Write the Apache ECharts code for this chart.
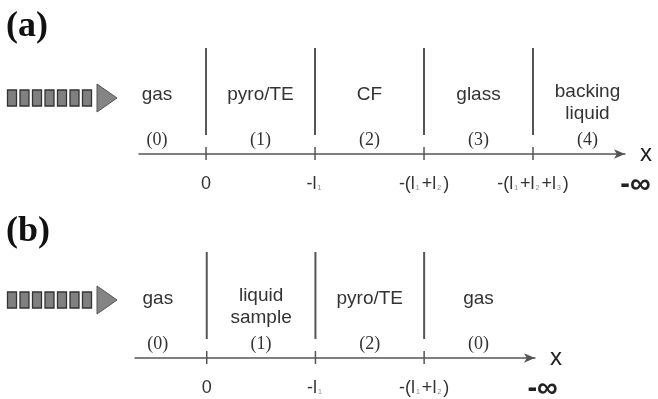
<!DOCTYPE html>
<html>
<head>
<meta charset="utf-8">
<script src="https://cdn.jsdelivr.net/npm/echarts@6/dist/echarts.min.js"></script>
<style>
  html, body { margin: 0; padding: 0; background: #fff; }
  #chart { width: 658px; height: 399px; }
</style>
</head>
<body>
<div id="chart"></div>
<script>
// ---- Layer stack (a): gas | pyro/TE | CF | glass | backing liquid ----
// interfaces at depth 0, l1, l1+l2, l1+l2+l3 (equal layer thickness)
const boundariesA = [0, 1, 2, 3];
const layerNamesA = ['gas', 'pyro/TE', 'CF', 'glass', 'backing\nliquid'];
const layerIdxA   = ['(0)', '(1)', '(2)', '(3)', '(4)'];
const layerMidA   = [-0.45, 0.5, 1.5, 2.5, 3.5];
const tickLabelsA = ['0', '-l{s|1}', '-(l{s|1}+l{s|2})', '-(l{s|1}+l{s|2}+l{s|3})'];

// ---- Layer stack (b): gas | liquid sample | pyro/TE | gas ----
const boundariesB = [0, 1, 2];
const layerNamesB = ['gas', 'liquid\nsample', 'pyro/TE', 'gas'];
const layerIdxB   = ['(0)', '(1)', '(2)', '(0)'];
const layerMidB   = [-0.45, 0.5, 1.5, 2.5];
const tickLabelsB = ['0', '-l{s|1}', '-(l{s|1}+l{s|2})'];

// vertical layout, in px above the x axis
const LINE_TOP = 106, LINE_BOTTOM = 19, TICK_UP = 7, TICK_DOWN = 6;
const NAME_TOP = 70, NAME_TOP_2 = 73, IDX_Y = 14, INF_Y = -31;

const LINE_COLOR = '#555';
const TEXT_COLOR = '#333';

function boundaryRenderer(params, api) {
  const x = api.value(0);
  const a = api.coord([x, LINE_TOP]);
  const b = api.coord([x, LINE_BOTTOM]);
  const c = api.coord([x, TICK_UP]);
  const d = api.coord([x, -TICK_DOWN]);
  return {
    type: 'group',
    children: [
      { type: 'line', shape: { x1: a[0], y1: a[1], x2: b[0], y2: b[1] },
        style: { stroke: LINE_COLOR, lineWidth: 2 } },
      { type: 'line', shape: { x1: c[0], y1: c[1], x2: d[0], y2: d[1] },
        style: { stroke: LINE_COLOR, lineWidth: 1.5 } }
    ]
  };
}

// region names: two-line names sit a little higher than single-line ones
function nameRenderer(texts) {
  return function (params, api) {
    const t = texts[params.dataIndex];
    const p = api.coord([api.value(0), t.indexOf('\n') >= 0 ? NAME_TOP_2 : NAME_TOP]);
    return {
      type: 'text', x: p[0], y: p[1],
      style: {
        text: t,
        font: '19px "Liberation Sans", Arial, sans-serif',
        fill: TEXT_COLOR, align: 'center', verticalAlign: 'top', lineHeight: 22
      }
    };
  };
}

function indexRenderer(texts) {
  return function (params, api) {
    const p = api.coord([api.value(0), IDX_Y]);
    return {
      type: 'text', x: p[0], y: p[1],
      style: {
        text: texts[params.dataIndex],
        font: '18px "Liberation Serif", "Times New Roman", serif',
        fill: TEXT_COLOR, align: 'center', verticalAlign: 'middle'
      }
    };
  };
}

function infRenderer(params, api) {
  const p = api.coord([api.value(0), INF_Y]);
  return {
    type: 'text', x: p[0], y: p[1],
    style: { text: '-\u221E', font: 'bold 29px "Liberation Sans", Arial, sans-serif',
             fill: '#222', align: 'center', verticalAlign: 'middle' }
  };
}

function xAxisFor(gridIndex, min, max, values, labels) {
  return {
    type: 'value', gridIndex: gridIndex, min: min, max: max,
    name: 'x', nameLocation: 'end', nameGap: 15,
    nameTextStyle: { fontSize: 24, fontFamily: '"Liberation Sans", Arial, sans-serif',
                     color: '#222', verticalAlign: 'middle', padding: [0, 0, 4, 0] },
    axisLine: { show: true, lineStyle: { color: LINE_COLOR, width: 1.5 },
                symbol: ['none', 'arrow'], symbolSize: [7, 11] },
    axisTick: { show: false },
    splitLine: { show: false },
    axisLabel: {
      show: true,
      customValues: values,
      margin: 21,
      fontSize: 18,
      fontFamily: '"Liberation Sans", Arial, sans-serif',
      color: TEXT_COLOR,
      formatter: function (v) {
        const i = values.indexOf(v);
        return i >= 0 ? labels[i] : '';
      },
      rich: {
        s: { fontSize: 7, color: '#888', verticalAlign: 'bottom', padding: [0, 2, 1, 1],
             fontFamily: '"Liberation Sans", Arial, sans-serif' }
      }
    }
  };
}

function yAxisFor(gridIndex) {
  return { type: 'value', gridIndex: gridIndex, min: 0, max: 120, show: false };
}

function panelSeries(gi, boundaries, mids, names, idx, infPos) {
  return [
    { type: 'custom', xAxisIndex: gi, yAxisIndex: gi, clip: false,
      data: boundaries.map(v => [v, 0]), renderItem: boundaryRenderer },
    { type: 'custom', xAxisIndex: gi, yAxisIndex: gi, clip: false,
      data: mids.map(v => [v, 0]), renderItem: nameRenderer(names) },
    { type: 'custom', xAxisIndex: gi, yAxisIndex: gi, clip: false,
      data: mids.map(v => [v, 0]), renderItem: indexRenderer(idx) },
    { type: 'custom', xAxisIndex: gi, yAxisIndex: gi, clip: false,
      data: [[infPos, 0]], renderItem: infRenderer }
  ];
}

// incident beam icon: row of blocks followed by a triangular head
function beamIcon(cy) {
  const kids = [];
  for (let i = 0; i < 7; i++) {
    kids.push({ type: 'rect', shape: { x: 7.5 + i * 12.5, y: cy - 8, width: 9, height: 16 },
                style: { fill: '#808080', stroke: '#333', lineWidth: 1.3 } });
  }
  kids.push({ type: 'polygon',
              shape: { points: [[97, cy - 14], [117, cy], [97, cy + 14]] },
              style: { fill: '#848484', stroke: '#555', lineWidth: 1 } });
  return { type: 'group', children: kids };
}

const chart = echarts.init(document.getElementById('chart'), null, { renderer: 'canvas' });
chart.setOption({
  backgroundColor: '#ffffff',
  animation: false,
  grid: [
    { left: 139, top: 34, width: 486, height: 120 },
    { left: 135, top: 238, width: 400, height: 120 }
  ],
  xAxis: [
    xAxisFor(0, -0.615, 3.844, boundariesA, tickLabelsA),
    xAxisFor(1, -0.66, 3.02, boundariesB, tickLabelsB)
  ],
  yAxis: [yAxisFor(0), yAxisFor(1)],
  graphic: [
    { type: 'text', left: 6, top: 9,
      style: { text: '(a)', font: 'bold 36px "Liberation Serif", "Times New Roman", serif', fill: '#111' } },
    { type: 'text', left: 6, top: 214,
      style: { text: '(b)', font: 'bold 36px "Liberation Serif", "Times New Roman", serif', fill: '#111' } },
    beamIcon(98),
    beamIcon(300)
  ],
  series: [].concat(
    panelSeries(0, boundariesA, layerMidA, layerNamesA, layerIdxA, 3.94),
    panelSeries(1, boundariesB, layerMidB, layerNamesB, layerIdxB, 3.09)
  )
});
</script>
</body>
</html>
